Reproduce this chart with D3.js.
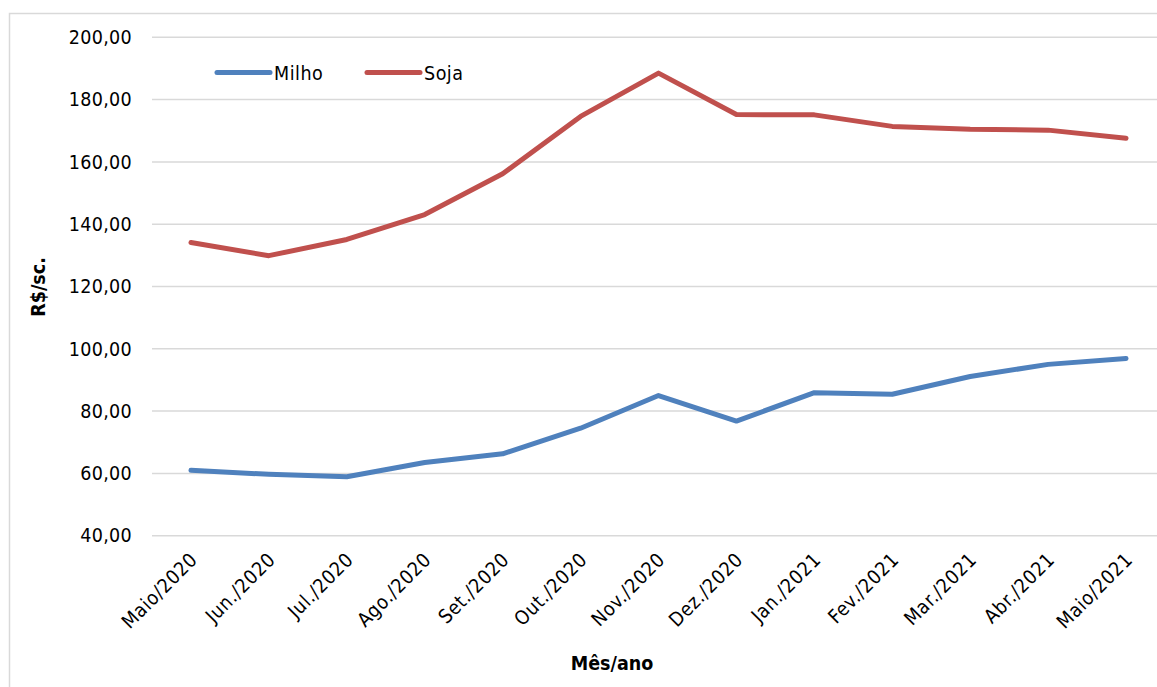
<!DOCTYPE html>
<html><head><meta charset="utf-8">
<script src="https://cdn.jsdelivr.net/npm/d3@7"></script>
<style>
html,body{margin:0;padding:0;background:#fff;}
svg{display:block;}
text{font-family:"DejaVu Sans Condensed","DejaVu Sans",sans-serif;font-stretch:condensed;fill:#000;}
</style></head>
<body>
<svg id="c" width="1157" height="687"></svg>
<script>
const categories = ["Maio/2020","Jun./2020","Jul./2020","Ago./2020","Set./2020","Out./2020","Nov./2020","Dez./2020","Jan./2021","Fev./2021","Mar./2021","Abr./2021","Maio/2021"];
const milho = [61.0, 59.7, 58.9, 63.5, 66.3, 74.5, 85.0, 76.8, 85.9, 85.4, 91.1, 95.0, 96.9];
const soja  = [134.1, 129.9, 135.1, 143.1, 156.2, 174.6, 188.5, 175.2, 175.1, 171.4, 170.5, 170.2, 167.6];
const yTicks = [40, 60, 80, 100, 120, 140, 160, 180, 200];
const seriesNames = ["Milho", "Soja"];
const seriesColors = ["#4F81BD", "#C0504D"];

const svg = d3.select("#c");
const pLeft = 152, pRight = 1165, pTop = 37.3, pBottom = 535.7;
const FS = 19.5;
const FF = '"DejaVu Sans Condensed","DejaVu Sans",sans-serif';

const x = d3.scalePoint().domain(categories).range([pLeft, pRight]).padding(0.5);
const y = d3.scaleLinear().domain([40, 200]).range([pBottom, pTop]);
const fmt = v => d3.format(".2f")(v).replace(".", ",");

// outer border
svg.append("rect").attr("x", 9.5).attr("y", 13.5).attr("width", 1200).attr("height", 700)
  .attr("fill", "none").attr("stroke", "#D9D9D9").attr("stroke-width", 1.5);

// grid
svg.append("g").selectAll("line").data(yTicks).join("line")
  .attr("x1", pLeft).attr("x2", pRight)
  .attr("y1", d => y(d)).attr("y2", d => y(d))
  .attr("stroke", "#D9D9D9").attr("stroke-width", 1.5);

// y axis
const yAxis = svg.append("g").attr("transform", `translate(${pLeft},0)`)
  .call(d3.axisLeft(y).tickValues(yTicks).tickFormat(fmt).tickSize(0).tickPadding(20));
yAxis.select(".domain").remove();
yAxis.selectAll("text").attr("font-size", FS).attr("fill", "#000")
  .attr("font-family", FF).attr("letter-spacing", 0.3);

// x axis
const xAxis = svg.append("g").attr("transform", `translate(0,${pBottom})`)
  .call(d3.axisBottom(x).tickSize(0).tickPadding(0));
xAxis.select(".domain").remove();
xAxis.selectAll("text")
  .attr("font-size", FS).attr("fill", "#000")
  .attr("font-family", FF).attr("letter-spacing", 0.6)
  .attr("text-anchor", "end")
  .attr("dy", null).attr("y", 0)
  .attr("transform", "translate(-3,15) rotate(-45)")
  .attr("dominant-baseline", "hanging");

// lines
const line = d3.line().x((d, i) => x(categories[i])).y(d => y(d));
[milho, soja].forEach((s, k) => {
  svg.append("path").datum(s).attr("d", line)
    .attr("fill", "none").attr("stroke", seriesColors[k]).attr("stroke-width", 5)
    .attr("stroke-linejoin", "round").attr("stroke-linecap", "round");
});

// legend
const legX = [217, 367];
seriesNames.forEach((n, k) => {
  svg.append("line").attr("x1", legX[k]).attr("x2", legX[k] + 53).attr("y1", 72.5).attr("y2", 72.5)
    .attr("stroke", seriesColors[k]).attr("stroke-width", 5).attr("stroke-linecap", "round");
  svg.append("text").attr("x", legX[k] + 57).attr("y", 80).attr("font-size", FS)
    .attr("letter-spacing", 0.5).text(n);
});

// axis titles
svg.append("text").attr("transform", "translate(45,287) rotate(-90)")
  .attr("text-anchor", "middle").attr("font-size", FS).attr("font-weight", "bold").text("R$/sc.");
svg.append("text").attr("x", 612).attr("y", 670)
  .attr("text-anchor", "middle").attr("font-size", FS).attr("font-weight", "bold").text("Mês/ano");
</script>
</body></html>
